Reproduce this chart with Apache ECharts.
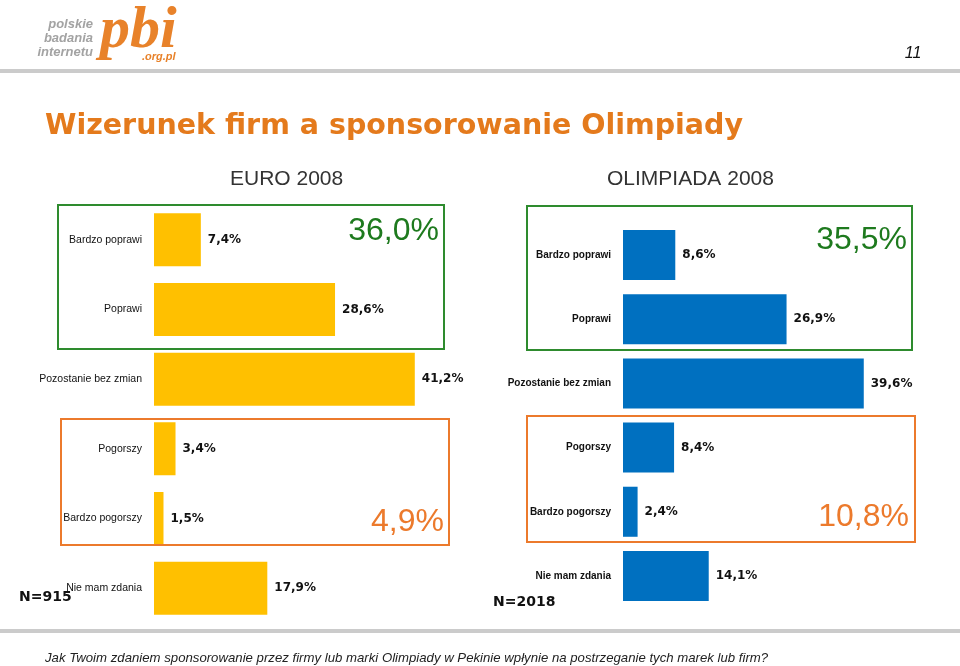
<!DOCTYPE html>
<html>
<head>
<meta charset="utf-8">
<script src="https://cdn.jsdelivr.net/npm/echarts@6/dist/echarts.min.js"></script>
<style>
html,body{margin:0;padding:0;background:#fff;}
#chart{width:960px;height:666px;}
</style>
</head>
<body>
<div id="chart"></div>
<script>
var categories = ["Bardzo poprawi", "Poprawi", "Pozostanie bez zmian", "Pogorszy", "Bardzo pogorszy", "Nie mam zdania"];
var euroValues = [7.4, 28.6, 41.2, 3.4, 1.5, 17.9];
var olimpiadaValues = [8.6, 26.9, 39.6, 8.4, 2.4, 14.1];
var euroTitle = "EURO 2008";
var olimpiadaTitle = "OLIMPIADA 2008";
var euroPositive = "36,0%";
var euroNegative = "4,9%";
var olimpiadaPositive = "35,5%";
var olimpiadaNegative = "10,8%";
var euroN = "N=915";
var olimpiadaN = "N=2018";
var mainTitle = "Wizerunek firm a sponsorowanie Olimpiady";
var question = "Jak Twoim zdaniem sponsorowanie przez firmy lub marki Olimpiady w Pekinie wpłynie na postrzeganie tych marek lub firm?";
var pageNumber = "11";

function fmt(v){ return v.toFixed(1).replace('.', ',') + '%'; }

var chart = echarts.init(document.getElementById('chart'), null, {renderer:'canvas'});

var valueLabel = {
  show: true, position: 'right', distance: 7,
  fontFamily: 'DejaVu Sans', fontWeight: 'bold', fontSize: 12, color: '#111',
  formatter: function(p){ return fmt(p.value); }
};

var option = {
  animation: false,
  backgroundColor: '#ffffff',
  grid: [
    {left: 154, top: 205, width: 316.5, height: 418},
    {left: 623, top: 223, width: 304, height: 385}
  ],
  xAxis: [
    {type: 'value', gridIndex: 0, min: 0, max: 50, show: false},
    {type: 'value', gridIndex: 1, min: 0, max: 50, show: false}
  ],
  yAxis: [
    {type: 'category', gridIndex: 0, data: categories, inverse: true,
     axisLine: {show: false}, axisTick: {show: false},
     axisLabel: {margin: 12, fontFamily: 'Liberation Sans', fontSize: 10.5, color: '#111'}},
    {type: 'category', gridIndex: 1, data: categories, inverse: true,
     axisLine: {show: false}, axisTick: {show: false},
     axisLabel: {margin: 12, fontFamily: 'Liberation Sans', fontWeight: 'bold', fontSize: 10, color: '#111'}}
  ],
  series: [
    {type: 'bar', xAxisIndex: 0, yAxisIndex: 0, data: euroValues,
     barCategoryGap: '24%', itemStyle: {color: '#FFC000'}, label: valueLabel},
    {type: 'bar', xAxisIndex: 1, yAxisIndex: 1, data: olimpiadaValues,
     barCategoryGap: '22%', itemStyle: {color: '#0070C0'}, label: valueLabel}
  ],
  graphic: [
    {type: 'rect', shape: {x: 0, y: 69, width: 960, height: 4}, style: {fill: '#CBCBCB'}, silent: true},
    {type: 'rect', shape: {x: 0, y: 629, width: 960, height: 4}, style: {fill: '#CBCBCB'}, silent: true},
    {type: 'text', x: 93, y: 24, style: {text: 'polskie', align: 'right', verticalAlign: 'middle', font: 'italic bold 13px "Liberation Sans"', fill: '#A3A3A3'}},
    {type: 'text', x: 93, y: 38, style: {text: 'badania', align: 'right', verticalAlign: 'middle', font: 'italic bold 13px "Liberation Sans"', fill: '#A3A3A3'}},
    {type: 'text', x: 93, y: 52, style: {text: 'internetu', align: 'right', verticalAlign: 'middle', font: 'italic bold 13px "Liberation Sans"', fill: '#A3A3A3'}},
    {type: 'text', x: 100, y: 31, style: {text: 'pbi', align: 'left', verticalAlign: 'middle', font: 'italic bold 60px "Liberation Serif"', fill: '#E8822A'}},
    {type: 'text', x: 142, y: 57, style: {text: '.org.pl', align: 'left', verticalAlign: 'middle', font: 'italic bold 11px "Liberation Sans"', fill: '#E8822A'}},
    {type: 'text', x: 913, y: 54, style: {text: pageNumber, align: 'center', verticalAlign: 'middle', font: 'italic 16px "Liberation Sans"', fill: '#111'}},
    {type: 'text', x: 45, y: 127, style: {text: mainTitle, align: 'left', verticalAlign: 'middle', font: 'bold 28.5px "DejaVu Sans"', fill: '#E47A1C'}},
    {type: 'text', x: 230, y: 179, style: {text: euroTitle, align: 'left', verticalAlign: 'middle', font: '21px "Liberation Sans"', fill: '#333'}},
    {type: 'text', x: 607, y: 179, style: {text: olimpiadaTitle, align: 'left', verticalAlign: 'middle', font: '21px "Liberation Sans"', fill: '#333'}},
    {type: 'rect', shape: {x: 58, y: 205, width: 386, height: 144}, style: {fill: 'none', stroke: '#2E8B2E', lineWidth: 2}, z: 10},
    {type: 'rect', shape: {x: 527, y: 206, width: 385, height: 144}, style: {fill: 'none', stroke: '#2E8B2E', lineWidth: 2}, z: 10},
    {type: 'rect', shape: {x: 61, y: 419, width: 388, height: 126}, style: {fill: 'none', stroke: '#EC7A2C', lineWidth: 2}, z: 10},
    {type: 'rect', shape: {x: 527, y: 416, width: 388, height: 126}, style: {fill: 'none', stroke: '#EC7A2C', lineWidth: 2}, z: 10},
    {type: 'text', x: 439, y: 231, style: {text: euroPositive, align: 'right', verticalAlign: 'middle', font: '32px "Liberation Sans"', fill: '#1E7A1E'}},
    {type: 'text', x: 907, y: 240, style: {text: olimpiadaPositive, align: 'right', verticalAlign: 'middle', font: '32px "Liberation Sans"', fill: '#1E7A1E'}},
    {type: 'text', x: 444, y: 522, style: {text: euroNegative, align: 'right', verticalAlign: 'middle', font: '32px "Liberation Sans"', fill: '#EC7A2C'}},
    {type: 'text', x: 909, y: 517, style: {text: olimpiadaNegative, align: 'right', verticalAlign: 'middle', font: '32px "Liberation Sans"', fill: '#EC7A2C'}},
    {type: 'text', x: 19, y: 597, style: {text: euroN, align: 'left', verticalAlign: 'middle', font: 'bold 14px "DejaVu Sans"', fill: '#111'}, z: 20},
    {type: 'text', x: 493, y: 602, style: {text: olimpiadaN, align: 'left', verticalAlign: 'middle', font: 'bold 14px "DejaVu Sans"', fill: '#111'}},
    {type: 'text', x: 45, y: 658, style: {text: question, align: 'left', verticalAlign: 'middle', font: 'italic 13.2px "Liberation Sans"', fill: '#222'}}
  ]
};
chart.setOption(option);
</script>
</body>
</html>
